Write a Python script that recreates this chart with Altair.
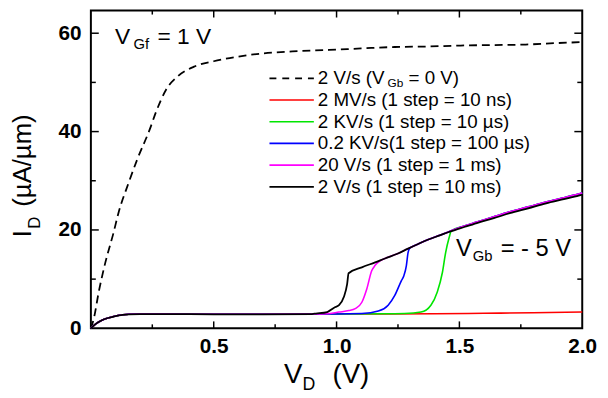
import altair as alt
import pandas as pd

FONT = "Liberation Sans"

# ---------------- data ----------------
# dashed curve: 2 V/s, V_Gb = 0 V
DASH_V = [0, 0.012, 0.032, 0.059, 0.092, 0.112, 0.153, 0.19, 0.24, 0.266, 0.306,
          0.353, 0.42, 0.5, 0.594, 0.70, 0.82, 0.97, 1.1, 1.237, 1.37, 1.505,
          1.64, 1.77, 1.9, 2.0]
DASH_I = [0, 2.0, 7.4, 13.4, 19.4, 23.4, 29.5, 34.5, 40.5, 44.1, 48.5,
          51.2, 53.2, 54.3, 55.2, 55.9, 56.3, 56.6, 56.9, 57.2, 57.3, 57.5,
          57.6, 57.7, 58.0, 58.2]

# common low-current part of the V_Gb = -5 V curves
BASE_V = [0, 0.02, 0.045, 0.07, 0.1, 0.13, 0.155, 0.2, 0.3, 0.5, 0.7, 0.9]
BASE_I = [0, 0.9, 1.65, 2.1, 2.5, 2.75, 2.85, 2.9, 2.9, 2.85, 2.85, 2.9]

# upper branch shared by the curves after their jump
ENV_V = [1.049, 1.103, 1.157, 1.197, 1.25, 1.291, 1.33, 1.371, 1.42, 1.464,
         1.52, 1.571, 1.64, 1.705, 1.78, 1.853, 1.93, 2.0]
ENV_I = [11.2, 12.4, 13.4, 14.2, 15.2, 16.2, 17.1, 18.0, 18.9, 19.7,
         20.6, 21.4, 22.4, 23.4, 24.4, 25.4, 26.3, 27.2]
ENV_I_HI = [11.2, 12.4, 13.4, 14.2, 15.2, 16.2, 17.1, 18.0, 18.9, 19.8,
            20.8, 21.6, 22.7, 23.7, 24.7, 25.7, 26.6, 27.5]

RED_V = [1.0, 1.2, 1.4, 1.6, 1.8, 2.0]
RED_I = [2.9, 2.9, 2.95, 3.05, 3.15, 3.3]
GRN_V = [1.0, 1.2, 1.277, 1.344, 1.384, 1.41, 1.431, 1.444, 1.458, 1.467]
GRN_I = [2.9, 2.95, 3.0, 3.3, 4.7, 7.4, 11.4, 15.4, 18.4, 19.8]
BLU_V = [1.0, 1.103, 1.17, 1.21, 1.237, 1.264, 1.274, 1.284, 1.291, 1.298]
BLU_I = [2.9, 3.0, 3.5, 4.7, 6.7, 9.7, 10.7, 12.7, 15.4, 16.3]
MAG_V = [0.96, 1.01, 1.05, 1.076, 1.103, 1.123, 1.143, 1.157, 1.177]
MAG_I = [2.95, 3.3, 3.6, 4.0, 5.3, 8.0, 11.7, 12.8, 13.7]
BLK_V = [0.916, 0.962, 0.99, 1.01, 1.03, 1.043]
BLK_I = [3.0, 3.3, 4.2, 4.7, 6.4, 9.0]

LEGEND_LABELS = ["2 V/s (V", "2 MV/s (1 step = 10 ns)", "2 KV/s (1 step = 10 µs)",
                 "0.2 KV/s(1 step = 100 µs)", "20 V/s (1 step = 1 ms)",
                 "2 V/s (1 step = 10 ms)"]
LEGEND_SUB = ["Gb", "= 0 V)"]
COLORS = ["black", "#ff0000", "#00e600", "#0000ff", "#ff00ff", "black"]

X_MAJOR = [0.5, 1.0, 1.5]
X_MINOR = [0.25, 0.75, 1.25, 1.75]
Y_MAJOR = [20, 40, 60]
Y_MINOR = [10, 30, 50]
X_LABELS = [0.5, 1.0, 1.5, 2.0]
Y_LABELS = [0, 20, 40, 60]

ANN_GF = ["V", "Gf", "= 1 V"]
ANN_GB = ["V", "Gb", "= - 5 V"]
XTITLE = ["V", "D", "(V)"]
YTITLE = ["I", "D", "(µA/µm)"]

# ---------------- layout constants ----------------
W, H = 498, 322

xs = alt.Scale(domain=[0, 2], nice=False, zero=False)
ys = alt.Scale(domain=[0, 64.6], nice=False, zero=False)
xaxis = alt.Axis(values=X_LABELS, format=".1f", labelFont=FONT, labelFontSize=21,
                 labelFontWeight="bold", labelColor="black", ticks=False, tickSize=0,
                 domain=False, grid=False, title=None, labelPadding=8,
                 labelFlush=False, labelOverlap=False)
yaxis = alt.Axis(values=Y_LABELS, format="d", labelFont=FONT, labelFontSize=21,
                 labelFontWeight="bold", labelColor="black", ticks=False, tickSize=0,
                 domain=False, grid=False, title=None, labelPadding=10,
                 labelFlush=False, labelOverlap=False)


def curve(vs, is_):
    return pd.DataFrame({"V": vs, "I": is_, "k": list(range(len(vs)))})


def after(env_i, start):
    vv = [v for v in ENV_V if v >= start]
    ii = [i for v, i in zip(ENV_V, env_i) if v >= start]
    return vv, ii


def line(df, color, width, dash=None):
    kw = dict(color=color, strokeWidth=width, interpolate="monotone")
    if dash:
        kw["strokeDash"] = dash
    return alt.Chart(df).mark_line(**kw).encode(
        x=alt.X("V:Q", scale=xs, axis=xaxis),
        y=alt.Y("I:Q", scale=ys, axis=yaxis),
        order="k:Q")


layers = []

# curves
layers.append(line(curve(DASH_V, DASH_I), "black", 1.8, [8, 5]))
layers.append(line(curve(BASE_V + RED_V, BASE_I + RED_I), COLORS[1], 1.6))
ev, ei = after(ENV_I_HI, 1.52)
layers.append(line(curve(BASE_V + GRN_V + ev, BASE_I + GRN_I + ei), COLORS[2], 1.6))
ev, ei = after(ENV_I_HI, 1.33)
layers.append(line(curve(BASE_V + BLU_V + ev, BASE_I + BLU_I + ei), COLORS[3], 1.6))
ev, ei = after(ENV_I_HI, 1.197)
layers.append(line(curve(BASE_V + MAG_V + ev, BASE_I + MAG_I + ei), COLORS[4], 1.6))
ev, ei = after(ENV_I, 1.049)
layers.append(line(curve(BASE_V + BLK_V + ev, BASE_I + BLK_I + ei), COLORS[5], 1.8))

# inward ticks on all four sides
def xticks(vals, y1, y2):
    return alt.Chart(pd.DataFrame({"V": vals})).mark_rule(color="black", strokeWidth=1.5).encode(
        x=alt.X("V:Q", scale=xs, axis=xaxis), y=alt.value(y1), y2=alt.value(y2))


def yticks(vals, x1, x2):
    return alt.Chart(pd.DataFrame({"I": vals})).mark_rule(color="black", strokeWidth=1.5).encode(
        y=alt.Y("I:Q", scale=ys, axis=yaxis), x=alt.value(x1), x2=alt.value(x2))


layers += [xticks(X_MAJOR, H, H - 7), xticks(X_MINOR, H, H - 4),
           xticks(X_MAJOR, 0, 7), xticks(X_MINOR, 0, 4),
           yticks(Y_MAJOR, 0, 8), yticks(Y_MINOR, 0, 5),
           yticks(Y_MAJOR, W, W - 8), yticks(Y_MINOR, W, W - 5)]


def txt(s, x, y, size, align="center", baseline="alphabetic", angle=0, weight="normal"):
    return alt.Chart(pd.DataFrame({"t": [s]})).mark_text(
        font=FONT, fontSize=size, align=align, baseline=baseline, angle=angle,
        fontWeight=weight, color="black").encode(
        x=alt.value(x), y=alt.value(y), text="t:N")


# legend
LX0, LX1, LTX, LY0, LDY = 181, 226, 230, 68.6, 22
for i, lab in enumerate(LEGEND_LABELS):
    y = LY0 + LDY * i
    kw = dict(color=COLORS[i], strokeWidth=1.8 if i in (0, 5) else 1.6)
    if i == 0:
        kw["strokeDash"] = [7, 6]
    layers.append(alt.Chart(pd.DataFrame({"a": [0]})).mark_rule(**kw).encode(
        x=alt.value(LX0), x2=alt.value(LX1), y=alt.value(y)))
    layers.append(txt(lab, LTX, y, 19, align="left", baseline="middle"))
layers.append(txt(LEGEND_SUB[0], 300.7, LY0 + 5, 12, align="left", baseline="middle"))
layers.append(txt(LEGEND_SUB[1], 322, LY0, 19, align="left", baseline="middle"))

# annotations
layers += [txt(ANN_GF[0], 32, 33.7, 23), txt(ANN_GF[1], 51, 39.3, 15),
           txt(ANN_GF[2], 94.7, 33.7, 23)]
layers += [txt(ANN_GB[0], 378, 248.7, 24), txt(ANN_GB[1], 397, 253.7, 15),
           txt(ANN_GB[2], 451, 248.7, 24)]

# axis titles
layers += [txt(XTITLE[0], 205, 377, 28), txt(XTITLE[1], 221, 385, 18),
           txt(XTITLE[2], 263.5, 377, 28)]
layers += [txt(YTITLE[0], -61, 226, 26, angle=270),
           txt(YTITLE[1], -52, 215, 17, angle=270),
           txt(YTITLE[2], -61, 152, 26, angle=270)]

chart = alt.layer(*layers).properties(
    width=W, height=H,
    autosize=alt.AutoSizeParams(type="none"),
    padding={"left": 84, "top": 0, "right": 18, "bottom": 68},
).configure_view(stroke="black", strokeWidth=2)

chart.save("out.html", embed_options={"renderer": "svg", "actions": False})
